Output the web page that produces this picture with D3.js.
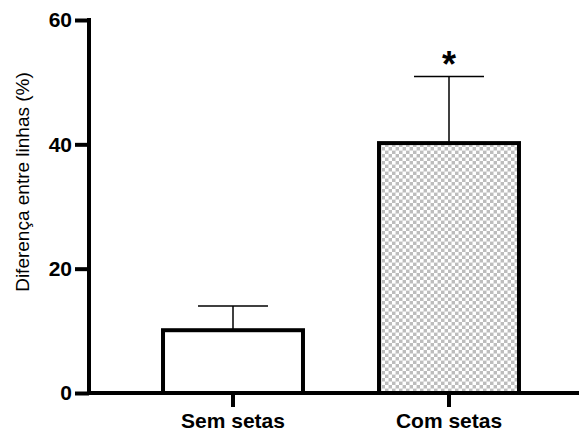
<!DOCTYPE html>
<html>
<head>
<meta charset="utf-8">
<script src="https://cdn.jsdelivr.net/npm/d3@7"></script>
<style>
  html, body { margin: 0; padding: 0; background: #fff; }
  svg { display: block; }
</style>
</head>
<body>
<svg id="chart" width="579" height="432"></svg>
<script>
// Group labels, mean values and upper error (SD) of each group
const categories = ["Sem setas", "Com setas"];
const means = [10.1, 40.2];
const errors = [3.9, 10.7];
const significance = ["", "*"];
const yTicks = [0, 20, 40, 60];

const svg = d3.select("#chart");
const font = "'Liberation Sans', Arial, Helvetica, sans-serif";

const y = d3.scaleLinear().domain([0, 60]).range([393, 20]);
const x = d3.scaleBand()
  .domain(categories)
  .range([125, 557])
  .paddingInner(0.352)
  .paddingOuter(0.176);

// Checkered fill for the second bar
const defs = svg.append("defs");
const pat = defs.append("pattern")
  .attr("id", "checker")
  .attr("patternUnits", "userSpaceOnUse")
  .attr("width", 7).attr("height", 7);
pat.append("rect").attr("width", 7).attr("height", 7).attr("fill", "#bdbdbd");
pat.append("rect").attr("x", 0).attr("y", 0).attr("width", 3.6).attr("height", 3.6).attr("fill", "#fff");
pat.append("rect").attr("x", 3.5).attr("y", 3.5).attr("width", 3.6).attr("height", 3.6).attr("fill", "#fff");

const fills = ["#ffffff", "url(#checker)"];

// Error bars (drawn first so the bar outline sits over the stem base)
const eb = svg.append("g");
categories.forEach((c, i) => {
  const cx = x(c) + x.bandwidth() / 2;
  const capW = x.bandwidth() / 2;
  eb.append("line")
    .attr("x1", cx).attr("x2", cx)
    .attr("y1", y(means[i])).attr("y2", y(means[i] + errors[i]))
    .attr("stroke", "#000").attr("stroke-width", 1.5);
  eb.append("line")
    .attr("x1", cx - capW / 2).attr("x2", cx + capW / 2)
    .attr("y1", y(means[i] + errors[i])).attr("y2", y(means[i] + errors[i]))
    .attr("stroke", "#000").attr("stroke-width", 1.5);
});

// Bars
svg.append("g").selectAll("rect")
  .data(categories)
  .join("rect")
  .attr("x", c => x(c))
  .attr("y", (c, i) => y(means[i]))
  .attr("width", x.bandwidth())
  .attr("height", (c, i) => y(0) - y(means[i]))
  .attr("fill", (c, i) => fills[i])
  .attr("stroke", "#000")
  .attr("stroke-width", 4);

// Significance markers above the error caps
svg.append("g").selectAll("text")
  .data(categories)
  .join("text")
  .attr("x", c => x(c) + x.bandwidth() / 2)
  .attr("y", (c, i) => y(means[i] + errors[i]))
  .attr("text-anchor", "middle")
  .attr("font-family", font)
  .attr("font-weight", "bold")
  .attr("font-size", 36)
  .attr("fill", "#000")
  .text((c, i) => significance[i]);

// Y axis
const yAxis = svg.append("g")
  .attr("transform", "translate(89,0)")
  .call(d3.axisLeft(y).tickValues(yTicks).tickSize(14).tickPadding(3));
yAxis.select(".domain").remove();
yAxis.append("line")
  .attr("x1", 0).attr("x2", 0)
  .attr("y1", y(60) - 2).attr("y2", y(0) + 2)
  .attr("stroke", "#000").attr("stroke-width", 4);
yAxis.selectAll(".tick line").attr("stroke", "#000").attr("stroke-width", 4);
yAxis.selectAll(".tick text")
  .attr("fill", "#000")
  .attr("font-family", font)
  .attr("font-weight", "bold")
  .attr("font-size", 21);

// X axis
const xAxis = svg.append("g")
  .attr("transform", `translate(0,${y(0)})`)
  .call(d3.axisBottom(x).tickSize(14).tickPadding(6));
xAxis.select(".domain").remove();
xAxis.append("line")
  .attr("x1", 87).attr("x2", 579)
  .attr("y1", 0).attr("y2", 0)
  .attr("stroke", "#000").attr("stroke-width", 4);
xAxis.selectAll(".tick line").attr("stroke", "#000").attr("stroke-width", 4);
xAxis.selectAll(".tick text")
  .attr("fill", "#000")
  .attr("font-family", font)
  .attr("font-weight", "bold")
  .attr("font-size", 21);

// Y axis title
svg.append("text")
  .attr("transform", "translate(29,182) rotate(-90)")
  .attr("text-anchor", "middle")
  .attr("font-family", font)
  .attr("font-size", 19)
  .attr("fill", "#000")
  .text("Diferença entre linhas (%)");
</script>
</body>
</html>
